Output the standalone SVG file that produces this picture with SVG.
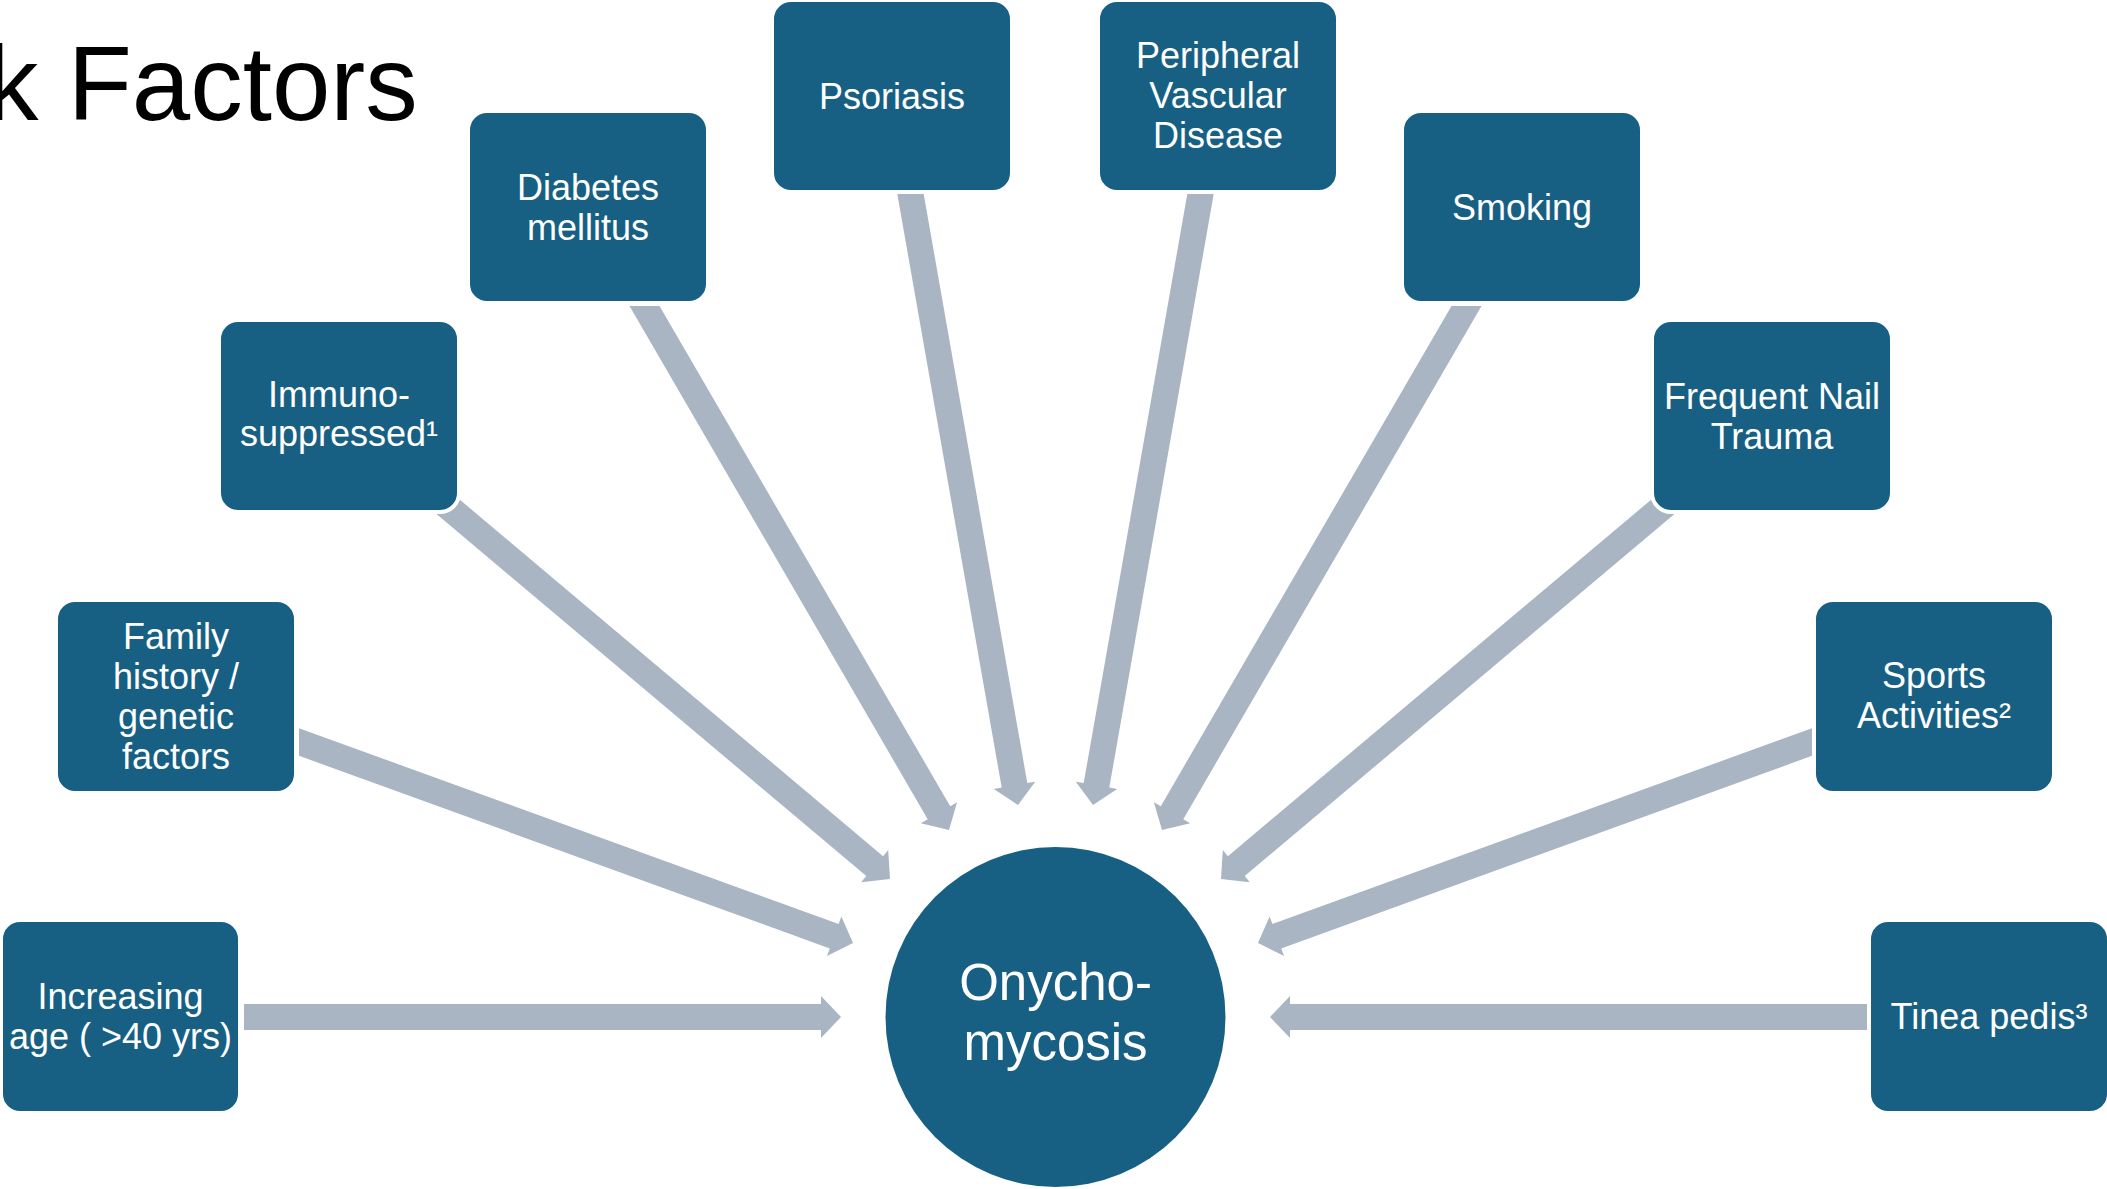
<svg xmlns="http://www.w3.org/2000/svg" width="2107" height="1189" viewBox="0 0 2107 1189">
<style>
.bg{fill:#ffffff}
.box{fill:#176083;stroke:#ffffff;stroke-width:4}
.arr{fill:#AAB5C3}
.t{font-family:"Liberation Sans","Noto Sans",Arial,sans-serif;font-size:36px;fill:#ffffff;text-anchor:middle}
.c{font-family:"Liberation Sans","Noto Sans",Arial,sans-serif;font-size:51px;fill:#ffffff;text-anchor:middle}
.title{font-family:"Liberation Sans","Noto Sans",Arial,sans-serif;font-size:105px;fill:#000000}
</style>
<rect class="bg" x="0" y="0" width="2107" height="1189"/>
<text class="title" x="-14" y="120">k Factors</text>
<g id="connectors">
<polygon class="arr" points="244,1004 821,1004 821,996 841,1017 821,1038 821,1030 244,1030"/>
<polygon class="arr" points="299,728.2 838.6,924 841.4,916.5 853,943 827,955.9 829.8,948.4 299,755.8"/>
<polygon class="arr" points="437.3,480.7 883.1,856.2 888.2,850 890,879 861.2,882.2 866.3,876.1 420.5,500.5"/>
<polygon class="arr" points="659.5,306 950.2,806.2 957.1,802.2 949,830 920.8,823.3 927.7,819.2 629.5,306"/>
<polygon class="arr" points="923.7,194 1027.3,783 1035.2,781.7 1018,805 993.8,788.9 1001.7,787.6 897.3,194"/>
<polygon class="arr" points="1187.3,194 1083.7,783 1075.8,781.7 1093,805 1117.2,788.9 1109.3,787.6 1213.7,194"/>
<polygon class="arr" points="1451.5,306 1160.8,806.2 1153.9,802.2 1162,830 1190.2,823.3 1183.3,819.2 1481.5,306"/>
<polygon class="arr" points="1673.7,480.7 1227.9,856.2 1222.8,850 1221,879 1249.8,882.2 1244.7,876.1 1690.5,500.5"/>
<polygon class="arr" points="1812,728.2 1272.4,924 1269.6,916.5 1258,943 1284,955.9 1281.2,948.4 1812,755.8"/>
<polygon class="arr" points="1867,1004 1290,1004 1290,996 1270,1017 1290,1038 1290,1030 1867,1030"/>
</g>
<g id="center">
<circle cx="1055.5" cy="1017" r="170" fill="#176083"/>
<text class="c" x="1055.5" y="1000">Onycho-</text>
<text class="c" x="1055.5" y="1060">mycosis</text>
</g>
<g id="age">
<rect class="box" x="1" y="920" width="239" height="193" rx="19"/>
<text class="t" x="120.5" y="1009">Increasing</text>
<text class="t" x="120.5" y="1049">age ( &gt;40 yrs)</text>
</g>
<g id="family">
<rect class="box" x="56" y="600" width="240" height="193" rx="19"/>
<text class="t" x="176" y="648.5">Family</text>
<text class="t" x="176" y="688.5">history /</text>
<text class="t" x="176" y="728.5">genetic</text>
<text class="t" x="176" y="768.5">factors</text>
</g>
<g id="immuno">
<rect class="box" x="219" y="320" width="240" height="192" rx="19"/>
<text class="t" x="339" y="407">Immuno-</text>
<text class="t" x="339" y="446">suppressed¹</text>
</g>
<g id="diabetes">
<rect class="box" x="468" y="111" width="240" height="192" rx="19"/>
<text class="t" x="588" y="199.5">Diabetes</text>
<text class="t" x="588" y="239.5">mellitus</text>
</g>
<g id="psoriasis">
<rect class="box" x="772" y="0" width="240" height="192" rx="19"/>
<text class="t" x="892" y="108.5">Psoriasis</text>
</g>
<g id="pvd">
<rect class="box" x="1098" y="0" width="240" height="192" rx="19"/>
<text class="t" x="1218" y="68">Peripheral</text>
<text class="t" x="1218" y="108">Vascular</text>
<text class="t" x="1218" y="148">Disease</text>
</g>
<g id="smoking">
<rect class="box" x="1402" y="111" width="240" height="192" rx="19"/>
<text class="t" x="1522" y="219.5">Smoking</text>
</g>
<g id="nail">
<rect class="box" x="1652" y="320" width="240" height="192" rx="19"/>
<text class="t" x="1772" y="408.5">Frequent Nail</text>
<text class="t" x="1772" y="448.5">Trauma</text>
</g>
<g id="sports">
<rect class="box" x="1814" y="600" width="240" height="193" rx="19"/>
<text class="t" x="1934" y="688">Sports</text>
<text class="t" x="1934" y="728">Activities²</text>
</g>
<g id="tinea">
<rect class="box" x="1869" y="920" width="240" height="193" rx="19"/>
<text class="t" x="1989" y="1029">Tinea pedis³</text>
</g>
</svg>
